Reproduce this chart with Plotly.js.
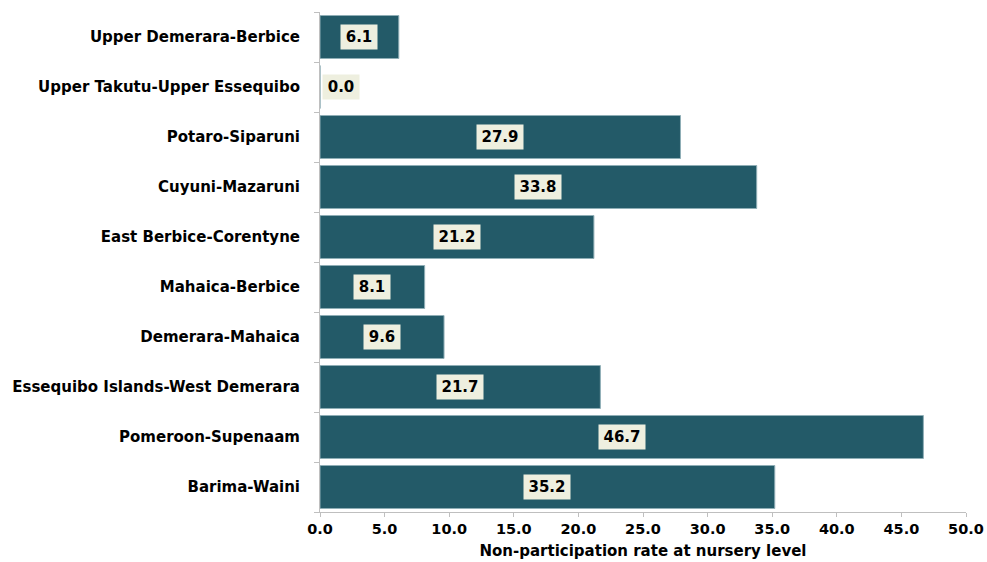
<!DOCTYPE html>
<html>
<head>
<meta charset="utf-8">
<script src="https://cdn.plot.ly/plotly-3.0.1.min.js"></script>
<style>html,body{margin:0;padding:0;background:#fff;}#chart{width:987px;height:562px;}</style>
</head>
<body>
<div id="chart"></div>
<script>
// Regions listed bottom-to-top (Plotly draws the first category at the bottom)
const regions = [
  "Barima-Waini",
  "Pomeroon-Supenaam",
  "Essequibo Islands-West Demerara",
  "Demerara-Mahaica",
  "Mahaica-Berbice",
  "East Berbice-Corentyne",
  "Cuyuni-Mazaruni",
  "Potaro-Siparuni",
  "Upper Takutu-Upper Essequibo",
  "Upper Demerara-Berbice"
];
const rates = [35.2, 46.7, 21.7, 9.6, 8.1, 21.2, 33.8, 27.9, 0.0, 6.1];
const xTicks = [0, 5, 10, 15, 20, 25, 30, 35, 40, 45, 50];
const xTitle = "Non-participation rate at nursery level";

const barColor = "#235A68";
const labelFont = {family: "DejaVu Sans, Verdana, sans-serif", size: 15, color: "#000"};

const annotations = regions.map((r, i) => ({
  x: Math.max(rates[i] / 2, 1.6),
  y: r,
  xref: "x", yref: "y",
  text: "<b>" + rates[i].toFixed(1) + "</b>",
  showarrow: false,
  font: labelFont,
  bgcolor: "#EEEFDF",
  width: rates[i].toFixed(1).length > 3 ? 46 : 36,
  height: 24,
  borderpad: 0
}));

const trace = {
  type: "bar",
  orientation: "h",
  x: rates,
  y: regions,
  marker: {color: barColor, line: {color: "#8FAEB6", width: 1}},
  hoverinfo: "x+y"
};

const layout = {
  width: 987, height: 562,
  margin: {l: 320, r: 21, t: 12, b: 50},
  paper_bgcolor: "#fff", plot_bgcolor: "#fff",
  showlegend: false,
  bargap: 0.14,
  xaxis: {
    range: [0, 50],
    tickvals: xTicks,
    ticktext: xTicks.map(v => "<b>" + v.toFixed(1) + "</b>"),
    tickfont: {family: "DejaVu Sans, Verdana, sans-serif", size: 14.5, color: "#000"},
    showgrid: false, zeroline: false,
    showline: true, linecolor: "#BFBFBF", linewidth: 1,
    ticks: "outside", ticklen: 4, tickcolor: "#BFBFBF",
    title: {text: "<b>" + xTitle + "</b>", font: {family: "DejaVu Sans, Verdana, sans-serif", size: 15, color: "#000"}, standoff: 9},
    fixedrange: true
  },
  yaxis: {
    type: "category",
    range: [-0.5, 9.5],
    tickson: "boundaries",
    ticktext: regions.map(r => "<b>" + r + "</b>"),
    tickvals: regions,
    tickfont: {family: "DejaVu Sans, Verdana, sans-serif", size: 15, color: "#000"},
    showgrid: false, zeroline: false,
    showline: true, linecolor: "#BFBFBF", linewidth: 1,
    ticks: "outside", ticklen: 5, tickcolor: "#BFBFBF",
    ticklabelstandoff: 16,
    fixedrange: true
  },
  annotations: annotations
};

Plotly.newPlot("chart", [trace], layout, {displayModeBar: false, staticPlot: true});
</script>
</body>
</html>
